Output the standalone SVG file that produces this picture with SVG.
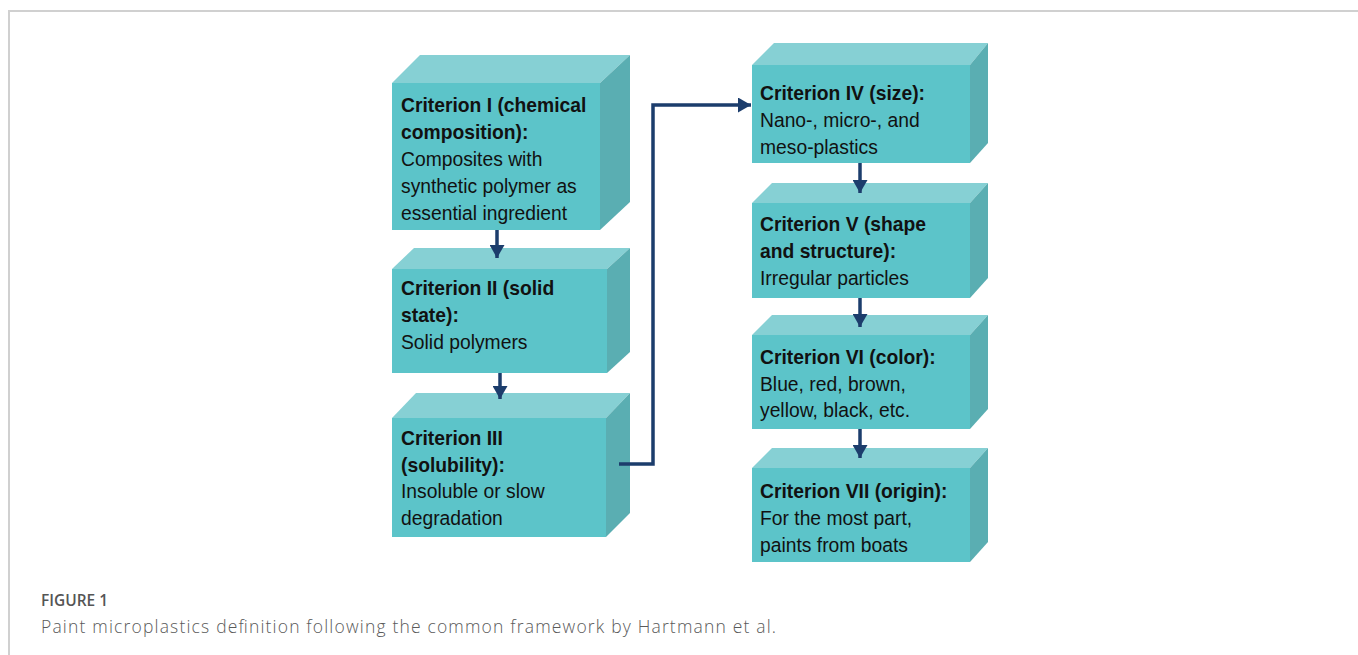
<svg xmlns="http://www.w3.org/2000/svg" width="1358" height="655" viewBox="0 0 1358 655">
<defs>
<style>
.front{fill:#5cc4c9}
.top{fill:#86d0d4}
.side{fill:#5aaeb2}
.t{font-family:"Liberation Sans",Arial,sans-serif;font-size:19.3px;fill:#111}
.b{font-weight:bold}
.conn{stroke:#1c3d6c;stroke-width:3.5;fill:none}
.frame{stroke:#d0d0d0;stroke-width:2;fill:none}
</style>
<marker id="ah" markerUnits="userSpaceOnUse" markerWidth="15" markerHeight="15" refX="13" refY="7.5" orient="auto">
<path d="M0,0 L13,7.5 L0,15 Z" fill="#1c3d6c"/>
</marker>
</defs>
<rect width="1358" height="655" fill="#fff"/>
<path class="frame" d="M9,655 V11 H1358"/>

<g id="n1">
<polygon class="top" points="392,83 420,55 630,55 600,83"/>
<polygon class="side" points="600,83 630,55 630,202 600,230"/>
<rect class="front" x="392" y="83" width="208" height="147"/>
<text class="t"><tspan class="b" x="401" y="112">Criterion I (chemical</tspan><tspan class="b" x="401" y="139">composition):</tspan><tspan x="401" y="166">Composites with</tspan><tspan x="401" y="193">synthetic polymer as</tspan><tspan x="401" y="220">essential ingredient</tspan></text>
</g>

<g id="n2">
<polygon class="top" points="392,269 414,248 630,248 607,269"/>
<polygon class="side" points="607,269 630,248 630,352 607,373"/>
<rect class="front" x="392" y="269" width="215" height="104"/>
<text class="t"><tspan class="b" x="401" y="295">Criterion II (solid</tspan><tspan class="b" x="401" y="322">state):</tspan><tspan x="401" y="349">Solid polymers</tspan></text>
</g>

<g id="n3">
<polygon class="top" points="392,418 416,393 630,393 606,418"/>
<polygon class="side" points="606,418 630,393 630,513 606,537"/>
<rect class="front" x="392" y="418" width="214" height="119"/>
<text class="t"><tspan class="b" x="401" y="445">Criterion III</tspan><tspan class="b" x="401" y="472">(solubility):</tspan><tspan x="401" y="498">Insoluble or slow</tspan><tspan x="401" y="525">degradation</tspan></text>
</g>

<g id="n4">
<polygon class="top" points="752,65 774,43 988,43 970,65"/>
<polygon class="side" points="970,65 988,43 988,143 970,163"/>
<rect class="front" x="752" y="65" width="218" height="98"/>
<text class="t"><tspan class="b" x="760" y="100">Criterion IV (size):</tspan><tspan x="760" y="127">Nano-, micro-, and</tspan><tspan x="760" y="154">meso-plastics</tspan></text>
</g>

<g id="n5">
<polygon class="top" points="752,203 772,183 988,183 970,203"/>
<polygon class="side" points="970,203 988,183 988,278 970,298"/>
<rect class="front" x="752" y="203" width="218" height="95"/>
<text class="t"><tspan class="b" x="760" y="231">Criterion V (shape</tspan><tspan class="b" x="760" y="258">and structure):</tspan><tspan x="760" y="285">Irregular particles</tspan></text>
</g>

<g id="n6">
<polygon class="top" points="752,335 772,315 988,315 970,335"/>
<polygon class="side" points="970,335 988,315 988,409 970,429"/>
<rect class="front" x="752" y="335" width="218" height="94"/>
<text class="t"><tspan class="b" x="760" y="364">Criterion VI (color):</tspan><tspan x="760" y="391">Blue, red, brown,</tspan><tspan x="760" y="417">yellow, black, etc.</tspan></text>
</g>

<g id="n7">
<polygon class="top" points="752,468 772,448 988,448 970,468"/>
<polygon class="side" points="970,468 988,448 988,542 970,562"/>
<rect class="front" x="752" y="468" width="218" height="94"/>
<text class="t"><tspan class="b" x="760" y="498">Criterion VII (origin):</tspan><tspan x="760" y="525">For the most part,</tspan><tspan x="760" y="552">paints from boats</tspan></text>
</g>

<g id="connectors">
<line class="conn" x1="497" y1="230" x2="497" y2="258" marker-end="url(#ah)"/>
<line class="conn" x1="500" y1="373" x2="500" y2="399" marker-end="url(#ah)"/>
<polyline class="conn" points="619,464 653,464 653,105 751,105" marker-end="url(#ah)"/>
<line class="conn" x1="860" y1="163" x2="860" y2="193" marker-end="url(#ah)"/>
<line class="conn" x1="860" y1="298" x2="860" y2="327" marker-end="url(#ah)"/>
<line class="conn" x1="860" y1="429" x2="860" y2="458" marker-end="url(#ah)"/>
</g>

<g id="caption">
<text x="41" y="606" style="font-family:'Open Sans','Liberation Sans',sans-serif;font-size:17px;font-weight:600;fill:#555" textLength="67" lengthAdjust="spacingAndGlyphs">FIGURE 1</text>
<text x="41" y="633" style="font-family:'Open Sans','Liberation Sans',sans-serif;font-size:17.5px;font-weight:300;fill:#5a5a5a" textLength="735" lengthAdjust="spacing">Paint microplastics definition following the common framework by Hartmann et al.</text>
</g>
</svg>
